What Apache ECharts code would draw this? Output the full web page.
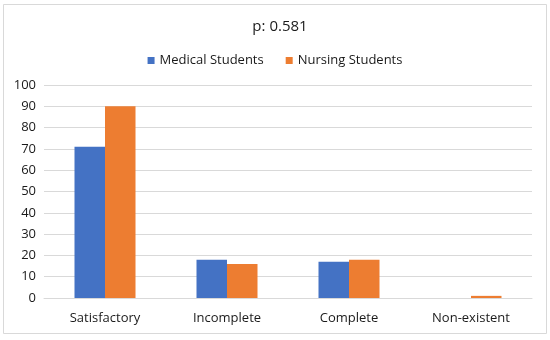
<!DOCTYPE html>
<html>
<head>
<meta charset="utf-8">
<script src="https://cdn.jsdelivr.net/npm/echarts@6/dist/echarts.min.js"></script>
<style>html,body{margin:0;padding:0;background:#fff}#c{width:550px;height:340px}</style>
</head>
<body>
<div id="c"></div>
<script>
var categories = ['Satisfactory', 'Incomplete', 'Complete', 'Non-existent'];
var medical = [71, 18, 17, 0];
var nursing = [90, 16, 18, 1];
var yTicks = [0, 100, 10];
var titleText = 'p: 0.581';
var seriesNames = ['Medical Students', 'Nursing Students'];

var FONT = 'Open Sans';
var chart = echarts.init(document.getElementById('c'), null, {renderer: 'canvas'});
chart.setOption({
  animation: false,
  backgroundColor: '#fff',
  graphic: [{
    type: 'rect', shape: {x: 3.5, y: 4.5, width: 543, height: 329},
    style: {fill: 'none', stroke: '#D9D9D9', lineWidth: 1}, silent: true
  }],
  title: {
    text: titleText, left: 275, top: 14, textAlign: 'center',
    textStyle: {fontFamily: FONT, fontSize: 15, fontWeight: 'normal', color: '#1a1a1a'}
  },
  legend: {
    data: seriesNames, left: 'center', top: 49, itemWidth: 7, itemHeight: 7, itemGap: 22,
    icon: 'rect',
    textStyle: {fontFamily: FONT, fontSize: 13, color: '#1a1a1a'}
  },
  grid: {left: 44, right: 18, top: 85, bottom: 42, containLabel: false},
  xAxis: {
    type: 'category', data: categories,
    axisLine: {lineStyle: {color: '#D9D9D9'}},
    axisTick: {show: false},
    axisLabel: {fontFamily: FONT, fontSize: 13, color: '#1a1a1a', margin: 14}
  },
  yAxis: {
    type: 'value', min: yTicks[0], max: yTicks[1], interval: yTicks[2],
    axisLine: {show: false}, axisTick: {show: false},
    splitLine: {lineStyle: {color: '#D9D9D9'}},
    axisLabel: {fontFamily: FONT, fontSize: 13, color: '#1a1a1a', margin: 8}
  },
  series: [
    {name: seriesNames[0], type: 'bar', data: medical, barGap: '0%', barCategoryGap: '50%',
     itemStyle: {color: '#4472C4'}},
    {name: seriesNames[1], type: 'bar', data: nursing, barGap: '0%', barCategoryGap: '50%',
     itemStyle: {color: '#ED7D31'}}
  ]
});
</script>
</body>
</html>
